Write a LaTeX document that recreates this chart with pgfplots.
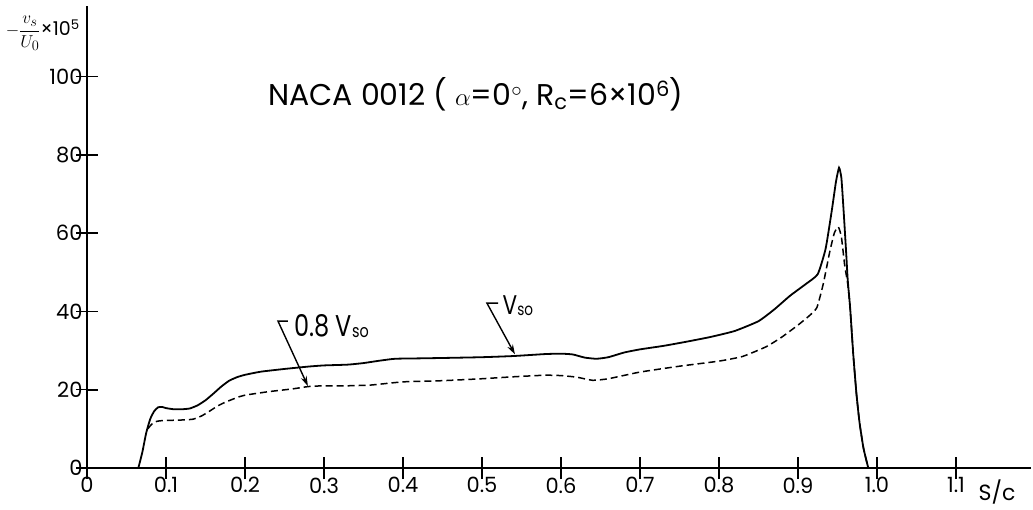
\documentclass[border=0pt]{standalone}
\usepackage{fontspec}
\setmainfont{Poppins}
\usepackage{graphicx}
\usepackage{pgfplots}
\pgfplotsset{compat=1.18}
\usetikzlibrary{arrows.meta}
\begin{document}
\begin{tikzpicture}
\begin{axis}[
  scale only axis, width=944pt, height=462pt,
  xmin=0, xmax=1.195, ymin=0, ymax=118,
  axis x line=bottom, axis y line=left,
  axis line style={line width=1.6pt,-},
  xtick={0,0.1,0.2,0.3,0.4,0.5,0.6,0.7,0.8,0.9,1.0,1.1},
  xticklabels={0,0.1,0.2,0.3,0.4,0.5,0.6,0.7,0.8,0.9,1.0,1.1},
  ytick={0,20,40,60,80,100},
  tick align=center, major tick length=22pt,
  tick style={line width=1.6pt, draw=black},
  tick label style={font=\fontsize{21}{23}\selectfont},
  xticklabel style={yshift=5pt},
  yticklabel style={xshift=10pt},
  /pgf/number format/assume math mode=true,
  clip=false,
]
% inward tick marks, drawn as short segments
\addplot[black, line width=1.7pt] coordinates {(0.1,0) (0.1,2.9)};
\addplot[black, line width=1.7pt] coordinates {(0.2,0) (0.2,2.9)};
\addplot[black, line width=1.7pt] coordinates {(0.3,0) (0.3,2.9)};
\addplot[black, line width=1.7pt] coordinates {(0.4,0) (0.4,2.9)};
\addplot[black, line width=1.7pt] coordinates {(0.5,0) (0.5,2.9)};
\addplot[black, line width=1.7pt] coordinates {(0.6,0) (0.6,2.9)};
\addplot[black, line width=1.7pt] coordinates {(0.7,0) (0.7,2.9)};
\addplot[black, line width=1.7pt] coordinates {(0.8,0) (0.8,2.9)};
\addplot[black, line width=1.7pt] coordinates {(0.9,0) (0.9,2.9)};
\addplot[black, line width=1.7pt] coordinates {(1.0,0) (1.0,2.9)};
\addplot[black, line width=1.7pt] coordinates {(1.1,0) (1.1,2.9)};
\addplot[black, line width=1.7pt] coordinates {(0,20) (0.0145,20)};
\addplot[black, line width=1.7pt] coordinates {(0,40) (0.0145,40)};
\addplot[black, line width=1.7pt] coordinates {(0,60) (0.0145,60)};
\addplot[black, line width=1.7pt] coordinates {(0,80) (0.0145,80)};
\addplot[black, line width=1.7pt] coordinates {(0,100) (0.0145,100)};
\addplot[black, line width=1.8pt, smooth, tension=0.3] coordinates {
(0.065,0) (0.070,4) (0.075,9) (0.080,12.5) (0.085,14.5) (0.090,15.5) (0.095,15.6)
(0.100,15.3) (0.110,15.0) (0.120,15.0) (0.130,15.2) (0.140,16.0) (0.150,17.3)
(0.160,19.0) (0.170,20.8) (0.180,22.3) (0.190,23.2) (0.200,23.8) (0.220,24.6)
(0.250,25.3) (0.280,25.9) (0.300,26.2) (0.330,26.4) (0.350,26.8) (0.370,27.4)
(0.390,27.9) (0.420,28.0) (0.450,28.1) (0.500,28.3) (0.540,28.6) (0.580,29.1)
(0.600,29.2) (0.615,29.0) (0.630,28.2) (0.645,27.9) (0.660,28.3) (0.680,29.5)
(0.700,30.3) (0.730,31.2) (0.760,32.3) (0.790,33.5) (0.820,35.0) (0.850,37.5)
(0.870,40.5) (0.890,44.0) (0.910,47.0) (0.925,49.5) (0.935,56) (0.943,66)
(0.948,73) (0.952,76.7) (0.955,74) (0.958,65) (0.961,55) (0.963,48) (0.966,41)
(0.970,29) (0.974,19) (0.978,11.5) (0.983,5) (0.989,0)
};
\addplot[black, line width=1.5pt, dash pattern=on 7pt off 4pt, smooth, tension=0.3] coordinates {
(0.077,10) (0.082,11.2) (0.088,11.9) (0.095,12.1) (0.110,12.2) (0.125,12.3)
(0.135,12.5) (0.145,13.3) (0.155,14.5) (0.165,15.8) (0.175,16.8) (0.190,18.0)
(0.200,18.6) (0.230,19.5) (0.260,20.2) (0.280,20.8) (0.300,21.0) (0.330,21.0)
(0.360,21.2) (0.400,22.0) (0.450,22.3) (0.500,22.8) (0.540,23.3) (0.580,23.7)
(0.600,23.6) (0.620,23.2) (0.640,22.4) (0.660,22.8) (0.700,24.5) (0.750,26.0)
(0.800,27.3) (0.830,28.5) (0.860,31.0) (0.880,33.5) (0.900,36.5) (0.915,39.0)
(0.924,41.0) (0.932,47) (0.940,55) (0.946,60) (0.951,61.6) (0.955,59) (0.959,52)
(0.963,47) (0.966,41) (0.970,29) (0.974,19) (0.978,11.5) (0.983,5) (0.989,0)
};
% title
\node[font=\fontsize{30}{32}\selectfont] at (axis cs:0.4924,95.5)
  {NACA 0012 ( $\alpha$=0$^{\circ}$, R\textsubscript{c}=6×10\textsuperscript{6})};
% y label
\node[font=\fontsize{19}{21}\selectfont] at (axis cs:-0.056,111.0)
  {$-\displaystyle\frac{v_s}{U_0}$×10\textsuperscript{5}};
% x label
\node[font=\fontsize{22}{24}\selectfont] at (axis cs:1.152,-6.1) {S/c};
% annotations
\draw[line width=1.4pt, -{Stealth[length=10pt,width=6pt]}]
  (axis cs:0.2544,37.5) -- (axis cs:0.2418,37.5) -- (axis cs:0.2797,20.9);
\node[anchor=west, inner sep=0pt, font=\fontsize{30}{32}\selectfont] at (axis cs:0.262,36.3)
  {\scalebox{0.8}[1]{0.8 V\raisebox{-1pt}{\fontsize{18}{18}\selectfont so}}};
\draw[line width=1.4pt, -{Stealth[length=10pt,width=6pt]}]
  (axis cs:0.5203,42.1) -- (axis cs:0.5063,42.1) -- (axis cs:0.5418,29.0);
\node[anchor=west, inner sep=0pt, font=\fontsize{27}{30}\selectfont] at (axis cs:0.526,41.5)
  {\scalebox{0.8}[1]{V\raisebox{-1pt}{\fontsize{17}{17}\selectfont so}}};
\end{axis}
\pgfresetboundingbox
\path[use as bounding box] (-87pt,-41pt) rectangle (946pt,468pt);
\end{tikzpicture}
\end{document}
